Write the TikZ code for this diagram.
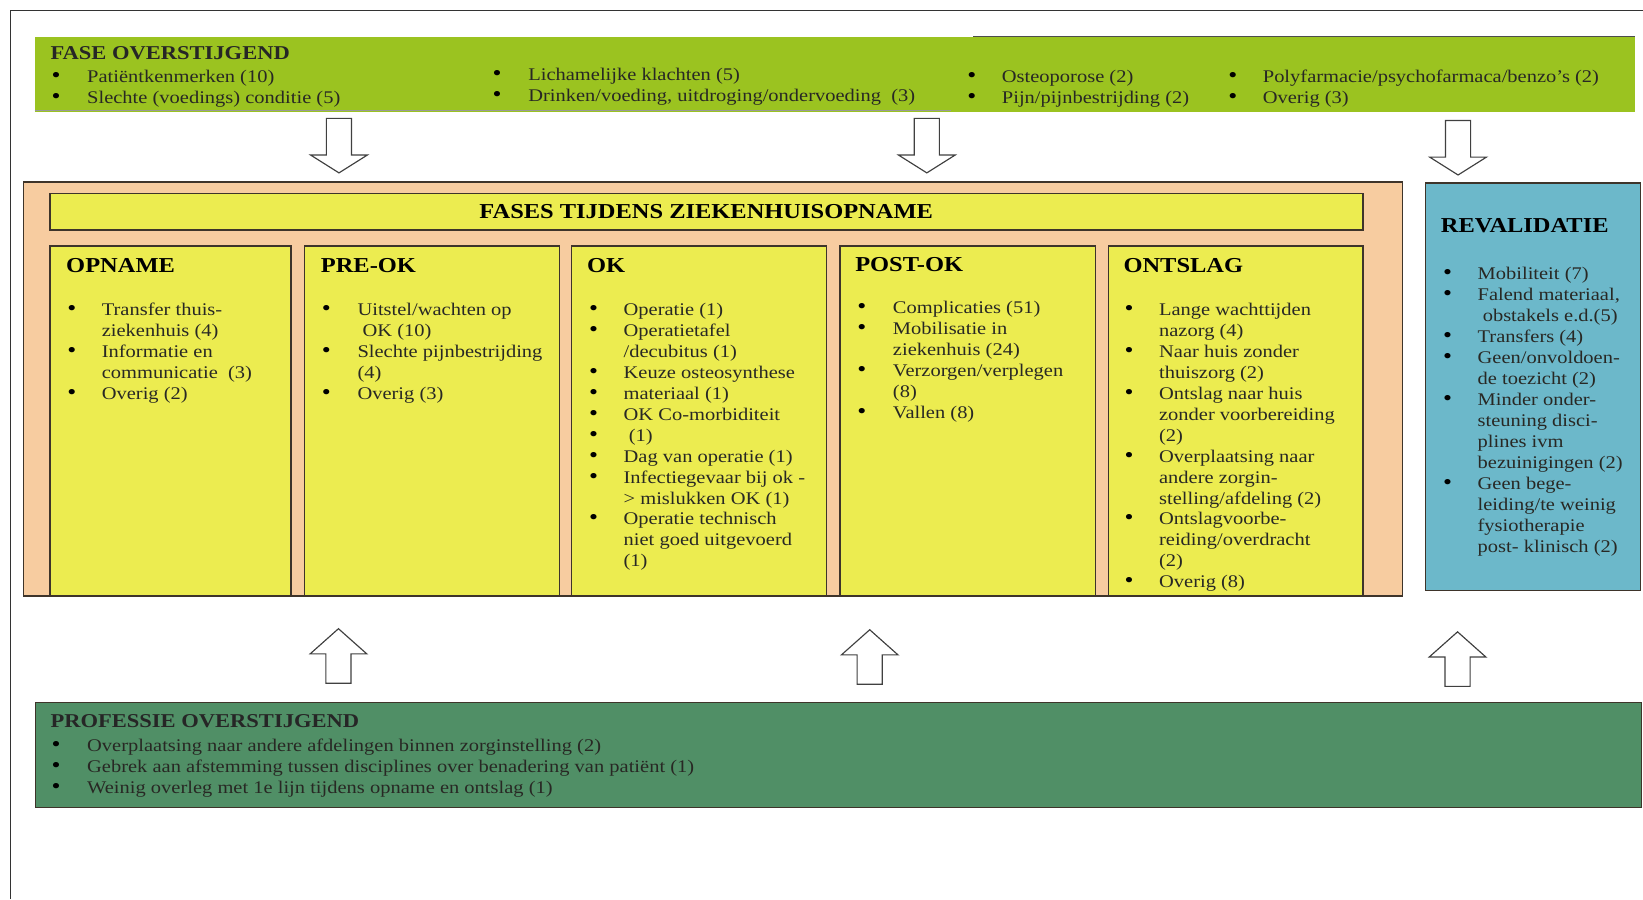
\documentclass[tikz,border=0pt]{standalone}
\usepackage{fontspec}
\setmainfont{Liberation Serif}[FakeStretch=1.15]
\definecolor{limegr}{RGB}{155,195,32}
\definecolor{peach}{RGB}{247,204,160}
\definecolor{yel}{RGB}{236,236,80}
\definecolor{tealb}{RGB}{108,184,202}
\definecolor{dkgr}{RGB}{80,143,102}
\definecolor{txt}{RGB}{40,40,36}
\definecolor{edge}{RGB}{62,52,42}
\newcommand\blst[2]{\begin{tabular}[t]{@{}p{#1}@{}l@{}}#2\end{tabular}}
\newcommand\bul{\textcolor{black}{\scalebox{1.25}{\textbullet}}}
\tikzset{
  panel/.style={draw=edge, line width=1.3pt, inner sep=0pt, anchor=north west},
  lst/.style={inner sep=0pt, anchor=base west, text=txt, font=\fontsize{17}{20}\selectfont},
  ttl/.style={inner sep=0pt, anchor=base west, text=black, font=\fontsize{20.3}{24}\selectfont\bfseries},
  barttl/.style={inner sep=0pt, anchor=base west, text=black!85, font=\fontsize{18.7}{22}\selectfont\bfseries},
  arrline/.style={draw=black!75, fill=white, line width=1.1pt, line join=miter},
  downarr/.pic={\path[arrline] (-12,0) -- (12,0) -- (12,35) -- (27,35) -- (0,52) -- (-27,35) -- (-12,35) -- cycle;},
  uparr/.pic={\path[arrline] (0,0) -- (27,24) -- (12,24) -- (12,52) -- (-12,52) -- (-12,24) -- (-27,24) -- cycle;},
}
\begin{document}
\begin{tikzpicture}[x=1pt,y=-1pt]
\useasboundingbox[fill=white] (0,0) rectangle (1568,858);
% outer frame
\coordinate (fbl) at (10,858);
\coordinate (ftl) at (10,10);
\coordinate (ftr) at (1568,10);
\draw[black!80, line width=1.6pt] (fbl) -- (ftl) -- (ftr);

% top bar
\node[panel, draw=none, fill=limegr, minimum width=1527pt, minimum height=71pt] (top) at (33,35) {};
\draw[black!70, line width=1pt] (929,35) -- (1560,35);
\draw[black!40, line width=0.8pt] (33,105.5) -- (908,105.5);
\node[barttl] (topT) at (48,57) {FASE OVERSTIJGEND};
\begin{scope}
\clip (33,35) rectangle (1560,104);
\node[lst] (top1) at (49,79) {\blst{34pt}{\bul & Patiëntkenmerken (10)\\ \bul & Slechte (voedings) conditie (5)}};
\node[lst] (top2) at (470,77) {\blst{34pt}{\bul & Lichamelijke klachten (5)\\ \bul & Drinken/voeding, uitdroging/ondervoeding\ \ (3)}};
\node[lst] (top3) at (923,79) {\blst{33pt}{\bul & Osteoporose (2)\\ \bul & Pijn/pijnbestrijding (2)}};
\node[lst] (top4) at (1172,79) {\blst{33pt}{\bul & Polyfarmacie/psychofarmaca/benzo’s (2)\\ \bul & Overig (3)}};
\end{scope}

% down arrows
\pic (dA) at (323.5,113) {downarr};
\pic (dB) at (884.5,113) {downarr};
\pic (dC) at (1391.5,115) {downarr};

% hospital phases
\node[panel, fill=peach, minimum width=1316pt, minimum height=395pt] (peach) at (22,173) {};
\node[panel, fill=yel, minimum width=1253pt, minimum height=35pt] (head) at (47,184) {};
\node[ttl, anchor=base] (headT) at (674,209) {FASES TIJDENS ZIEKENHUISOPNAME};

\node[panel, fill=yel, minimum width=230pt, minimum height=334pt] (opname) at (47,234) {};
\node[panel, fill=yel, minimum width=243pt, minimum height=334pt] (preok) at (290,234) {};
\node[panel, fill=yel, minimum width=243pt, minimum height=334pt] (ok) at (545,234) {};
\node[panel, fill=yel, minimum width=244pt, minimum height=334pt] (postok) at (801,234) {};
\node[panel, fill=yel, minimum width=243pt, minimum height=334pt] (ontslag) at (1057,234) {};
\node[panel, fill=tealb, minimum width=205pt, minimum height=389pt] (reval) at (1360,174) {};

\node[ttl] (opnameT) at (63,260) {OPNAME};
\node[ttl] (preokT) at (306,260) {PRE-OK};
\node[ttl] (okT) at (560,260) {OK};
\node[ttl] (postokT) at (816,259) {POST-OK};
\node[ttl] (ontslagT) at (1072,260) {ONTSLAG};
\node[ttl] (revalT) at (1375,222) {REVALIDATIE};

\node[lst] (opnameL) at (64,301) {\blst{33pt}{%
\bul & Transfer thuis-\\ & ziekenhuis (4)\\
\bul & Informatie en\\ & communicatie\ \ (3)\\
\bul & Overig (2)}};
\node[lst] (preokL) at (307,301) {\blst{34pt}{%
\bul & Uitstel/wachten op\\ & \ OK (10)\\
\bul & Slechte pijnbestrijding\\ & (4)\\
\bul & Overig (3)}};
\node[lst] (okL) at (562,301) {\blst{33pt}{%
\bul & Operatie (1)\\
\bul & Operatietafel\\ & /decubitus (1)\\
\bul & Keuze osteosynthese\\
\bul & materiaal (1)\\
\bul & OK Co-morbiditeit\\
\bul & \ (1)\\
\bul & Dag van operatie (1)\\
\bul & Infectiegevaar bij ok -\\ & > mislukken OK (1)\\
\bul & Operatie technisch\\ & niet goed uitgevoerd\\ & (1)}};
\node[lst] (postokL) at (818,299) {\blst{34pt}{%
\bul & Complicaties (51)\\
\bul & Mobilisatie in\\ & ziekenhuis (24)\\
\bul & Verzorgen/verplegen\\ & (8)\\
\bul & Vallen (8)}};
\node[lst] (ontslagL) at (1073,301) {\blst{33pt}{%
\bul & Lange wachttijden\\ & nazorg (4)\\
\bul & Naar huis zonder\\ & thuiszorg (2)\\
\bul & Ontslag naar huis\\ & zonder voorbereiding\\ & (2)\\
\bul & Overplaatsing naar\\ & andere zorgin-\\ & stelling/afdeling (2)\\
\bul & Ontslagvoorbe-\\ & reiding/overdracht\\ & (2)\\
\bul & Overig (8)}};
\node[lst] (revalL) at (1377,267) {\blst{33pt}{%
\bul & Mobiliteit (7)\\
\bul & Falend materiaal,\\ & \ obstakels e.d.(5)\\
\bul & Transfers (4)\\
\bul & Geen/onvoldoen-\\ & de toezicht (2)\\
\bul & Minder onder-\\ & steuning disci-\\ & plines ivm\\ & bezuinigingen (2)\\
\bul & Geen bege-\\ & leiding/te weinig\\ & fysiotherapie\\ & post- klinisch (2)}};

% up arrows
\pic (uA) at (323,600) {uparr};
\pic (uB) at (830,601) {uparr};
\pic (uC) at (1391,603) {uparr};

% bottom bar
\node[panel, fill=dkgr, minimum width=1533pt, minimum height=100pt, line width=1pt] (bot) at (33,670) {};
\node[barttl] (botT) at (48,694) {PROFESSIE OVERSTIJGEND};
\node[lst] (botL) at (49,717) {\blst{34pt}{%
\bul & Overplaatsing naar andere afdelingen binnen zorginstelling (2)\\
\bul & Gebrek aan afstemming tussen disciplines over benadering van patiënt (1)\\
\bul & Weinig overleg met 1e lijn tijdens opname en ontslag (1)}};
\end{tikzpicture}
\end{document}
